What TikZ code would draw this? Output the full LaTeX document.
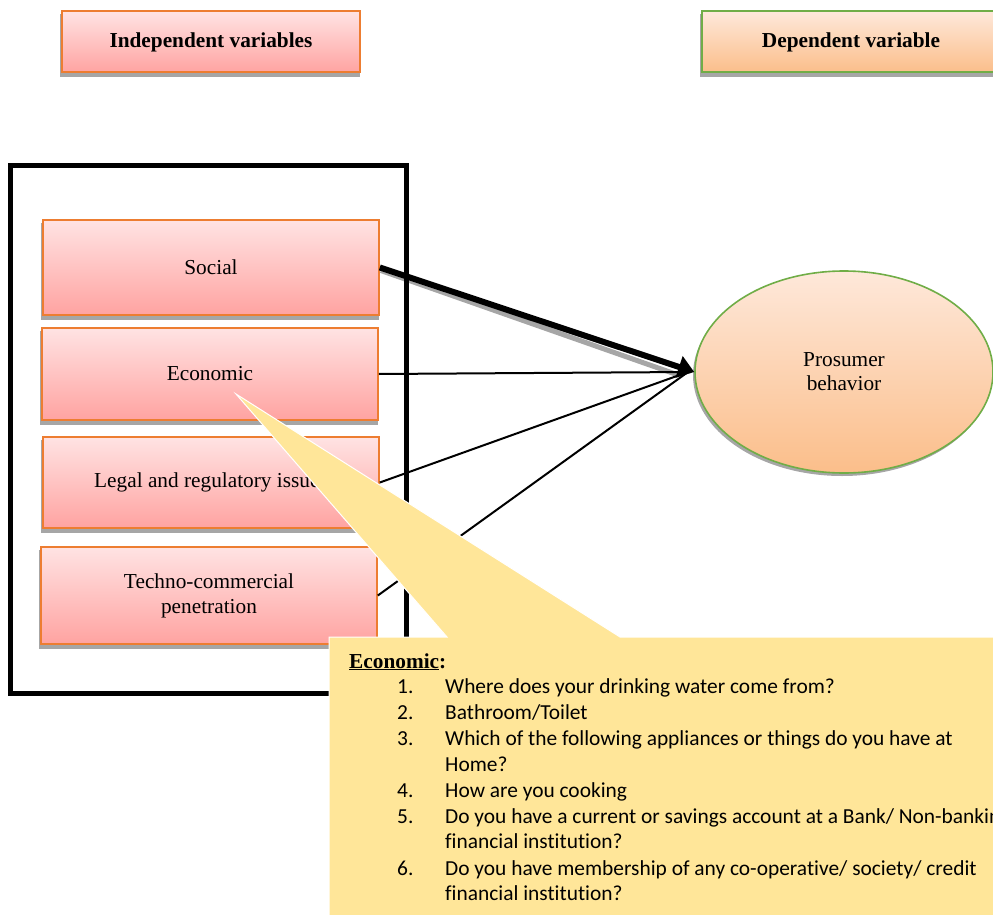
\documentclass[tikz,border=0pt]{standalone}
\usepackage{fontspec}
\setmainfont{Liberation Serif}
\newfontfamily\calibri[Ligatures=NoCommon]{Carlito}
\usetikzlibrary{arrows.meta,backgrounds,shapes.geometric}
\definecolor{pinktop}{HTML}{FFE3E3}
\definecolor{pinkbot}{HTML}{FFA3A1}
\definecolor{boxedge}{HTML}{ED7D31}
\definecolor{peachtop}{HTML}{FEE8DA}
\definecolor{peachbot}{HTML}{FBBE8A}
\definecolor{greenedge}{HTML}{70AD47}
\definecolor{noteyellow}{HTML}{FFE699}
\definecolor{shadowgray}{HTML}{A6A6A6}
\newcommand\boxshadow[1]{%
  \fill[shadowgray] ([shift={(-1pt,-4pt)}]#1.south west) rectangle ([shift={(-1pt,-4pt)}]#1.north east);}
\begin{document}
\begin{tikzpicture}[x=1pt,y=-1pt,
  every node/.style={inner sep=0pt, align=center, font=\fontsize{21.3}{25}\selectfont},
  header/.style={rectangle, line width=2pt, minimum width=298pt, minimum height=61pt,
    font=\bfseries\fontsize{21.3}{25}\selectfont},
  indep/.style={header, draw=boxedge, top color=pinktop, bottom color=pinkbot},
  dep/.style={header, draw=greenedge, top color=peachtop, bottom color=peachbot},
  factor/.style={rectangle, draw=boxedge, line width=1.6pt, top color=pinktop,
    bottom color=pinkbot, minimum width=336pt},
  outcome/.style={ellipse, draw=greenedge, line width=1.6pt, top color=peachtop,
    bottom color=peachbot, minimum width=298pt, minimum height=202pt,
    font=\fontsize{21.3}{24}\selectfont},
  link/.style={line width=2pt},
  mainlink/.style={line width=6pt, -{Triangle[length=16pt,width=22pt]}},
  note/.style={fill=noteyellow, draw=white, line width=1pt},
  qtext/.style={anchor=base west, font=\calibri\fontsize{21.4}{26}\selectfont},
  qhead/.style={anchor=base west, font=\bfseries\fontsize{21.3}{25}\selectfont}
]
\useasboundingbox (0,0) rectangle (993,915);
\clip (0,0) rectangle (993,915);

% column headers
\node[indep] (hind) at (211,42) {Independent variables};
\node[dep]   (hdep) at (851,42) {Dependent variable};

% factor boxes
\node[factor, minimum height=95pt] (soc) at (211,267.5) {Social};
\node[factor, minimum height=92pt] (eco) at (210,374)   {Economic};
\node[factor, minimum height=91pt] (leg) at (211,482.5) {Legal and regulatory issues};
\node[factor, minimum height=97pt] (tec) at (209,595.5) {Techno-commercial\\penetration};

% outcome
\node[outcome] (pb) at (844,372) {Prosumer\\behavior};

% surrounding frame
\draw[line width=5pt] (10,165) rectangle (406,693);

% shadows
\begin{pgfonlayer}{background}
  \boxshadow{hind}
  \boxshadow{hdep}
  \boxshadow{soc}
  \boxshadow{eco}
  \boxshadow{leg}
  \boxshadow{tec}
  \fill[shadowgray] ([shift={(-2pt,-3pt)}]pb.center) ellipse [x radius=149pt, y radius=101pt];
  \draw[shadowgray, line width=5pt] ([shift={(1pt,-3pt)}]soc.east) -- ([shift={(-16pt,-3pt)}]pb.west);
\end{pgfonlayer}

% connectors
\coordinate (hub) at (688,372);
\draw[link] (eco.east) -- (hub);
\draw[link] (leg.east) -- (hub);
\draw[link] (tec.east) -- (hub);
\draw[mainlink] (soc.east) -- (pb.west);

% callout
\coordinate (tip) at (236,394);
\filldraw[note] (329,637) -- (447,637) -- (tip) -- (620,637) -- (1000,637)
  -- (1000,920) -- (329,920) -- cycle;

\node[qhead] (ehead) at (349,668) {\underline{Economic}:};
\node[qtext] (n1) at (397,693) {1.};
\node[qtext] (q1) at (445,693) {Where does your drinking water come from?};
\node[qtext] (n2) at (397,719) {2.};
\node[qtext] (q2) at (445,719) {Bathroom/Toilet};
\node[qtext] (n3) at (397,745) {3.};
\node[qtext] (q3) at (445,745) {Which of the following appliances or things do you have at};
\node[qtext] (q3b) at (445,771) {Home?};
\node[qtext] (n4) at (397,797) {4.};
\node[qtext] (q4) at (445,797) {How are you cooking};
\node[qtext] (n5) at (397,823) {5.};
\node[qtext] (q5) at (445,823) {Do you have a current or savings account at a Bank/ Non-banking};
\node[qtext] (q5b) at (445,848) {financial institution?};
\node[qtext] (n6) at (397,875) {6.};
\node[qtext] (q6) at (445,875) {Do you have membership of any co-operative/ society/ credit};
\node[qtext] (q6b) at (445,900) {financial institution?};
\end{tikzpicture}
\end{document}
